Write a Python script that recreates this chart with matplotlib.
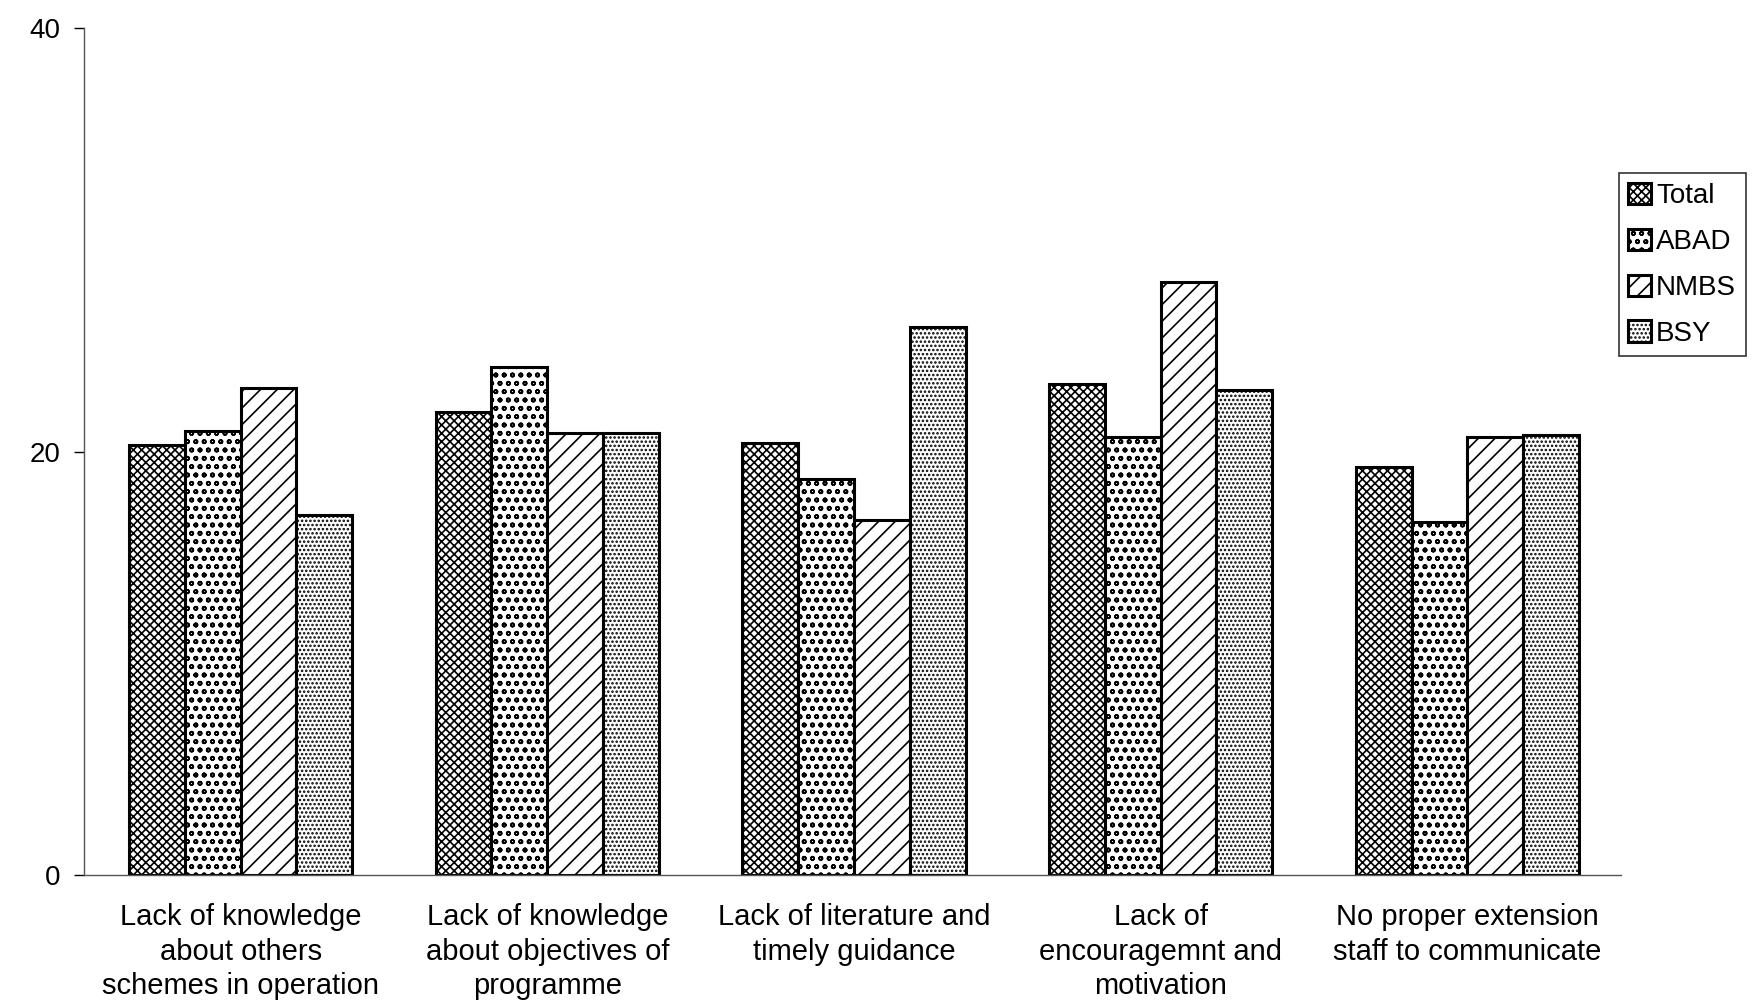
import matplotlib
matplotlib.use("Agg")
import matplotlib.pyplot as plt
import numpy as np

# Data
categories = [
    "Lack of knowledge\nabout others\nschemes in operation",
    "Lack of knowledge\nabout objectives of\nprogramme",
    "Lack of literature and\ntimely guidance",
    "Lack of\nencouragemnt and\nmotivation",
    "No proper extension\nstaff to communicate",
]
series_names = ["Total", "ABAD", "NMBS", "BSY"]
total = [20.3, 21.9, 20.4, 23.2, 19.3]
abad = [21.0, 24.0, 18.7, 20.7, 16.7]
nmbs = [23.0, 20.9, 16.8, 28.0, 20.7]
bsy = [17.0, 20.9, 25.9, 22.9, 20.8]

hatches = ["xxxx", "oo", "//", "...."]

plt.rcParams["font.family"] = ["Liberation Sans", "DejaVu Sans"]
plt.rcParams["hatch.linewidth"] = 1.2

fig = plt.figure(figsize=(17.54, 10.05), dpi=100)
ax = fig.add_axes([0.048, 0.129, 0.876, 0.843])

x = np.arange(len(categories))
width = 0.182
values = [total, abad, nmbs, bsy]
for i, (name, vals) in enumerate(zip(series_names, values)):
    ax.bar(x + (i - 1.5) * width, vals, width, label=name,
           color="white", edgecolor="black", linewidth=2.2, hatch=hatches[i])

ax.set_ylim(0, 40)
ax.set_yticks([0, 20, 40])
ax.set_xlim(-0.51, 4.5)
ax.set_xticks(x)
ax.set_xticklabels(categories, fontsize=21, linespacing=1.3)
ax.tick_params(axis="x", length=0, pad=20)
ax.tick_params(axis="y", labelsize=20, length=7, width=1, direction="out", pad=10)

for s in ["top", "right"]:
    ax.spines[s].set_visible(False)
ax.spines["left"].set_color("#555555")
ax.spines["bottom"].set_color("#555555")
ax.spines["left"].set_linewidth(1)
ax.spines["bottom"].set_linewidth(1)

leg = ax.legend(loc="upper left", bbox_to_anchor=(0.995, 0.835), fontsize=20,
                frameon=True, fancybox=False, edgecolor="black",
                handlelength=0.8, handleheight=0.8, handletextpad=0.2,
                labelspacing=0.7, borderpad=0.35, borderaxespad=0.2)
leg.get_frame().set_linewidth(1.2)

fig.savefig("out.png", dpi=100)
